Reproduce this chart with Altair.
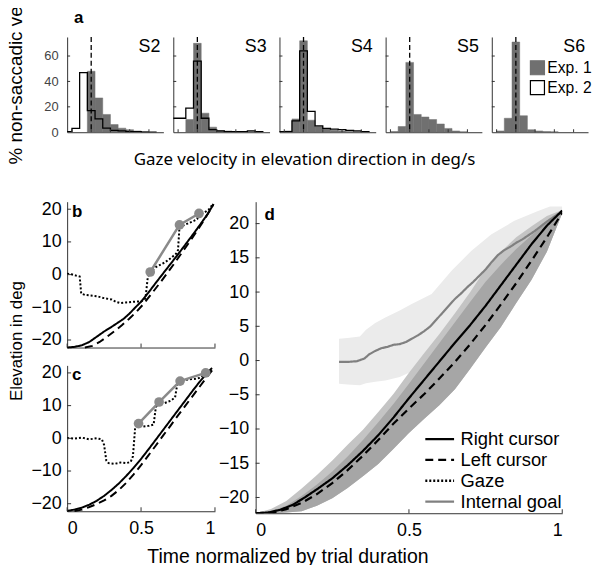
import altair as alt
import pandas as pd

FONT = "Liberation Sans"
AXC = "#333333"

# ---------------- panel a : histograms ----------------
panel_letters = ["a", "b", "c", "d"]
subjects = ["S2", "S3", "S4", "S5", "S6"]
bin_left_edges = [-4, 0, 4, 8, 12, 16, 20, 24, 28, 32, 36, 40]
bin_width = 4
target_velocity = [10]
hist_y_ticks = [0, 20, 40, 60]
hist_x_ticks = [0, 10, 20, 30, 40]
exp_names = ["Exp. 1", "Exp. 2"]
exp_fill = ["#707070", "#ffffff"]
exp_stroke = ["#707070", "#000000"]

s2_exp1 = [0, 0, 0, 48, 27, 14, 6, 3.2, 2, 1, 0.3, 0]
s2_exp2 = [0.5, 3, 47, 17, 10.5, 3.2, 1.5, 1, 0.5, 0.4, 0, 0]
s3_exp1 = [0, 0, 10, 70, 15, 4, 1.2, 1, 0.5, 0.5, 0.3, 0]
s3_exp2 = [11, 11, 19, 56, 11, 2, 1, 0.5, 0.5, 0.5, 1, 0.5]
s4_exp1 = [0, 1, 10.5, 72, 9.5, 4.5, 2.5, 1.5, 1, 0.5, 0.3, 0]
s4_exp2 = [0.5, 0.5, 9, 64, 16.5, 5, 3, 2.5, 2, 1.5, 1, 0.5]
s5_exp1 = [0, 0.5, 4.5, 55, 14, 12, 10, 6.5, 3, 1, 0.3, 0]
s6_exp1 = [0, 1, 11, 71, 13, 2, 1, 0.5, 0.3, 0, 0, 0]
hist_exp1 = [s2_exp1, s3_exp1, s4_exp1, s5_exp1, s6_exp1]
hist_exp2 = [s2_exp2, s3_exp2, s4_exp2, [], []]

# ---------------- panels b, c, d ----------------
series_domain = ["Right cursor", "Left cursor", "Gaze", "Internal goal"]
series_colors = ["#000000", "#000000", "#000000", "#808080"]
series_dashes = [[1, 0], [8, 5], [2, 2], [1, 0]]
time_ticks = [0, 0.5, 1]
elev_ticks_small = [-20, -10, 0, 10, 20]
elev_ticks_big = [-20, -15, -10, -5, 0, 5, 10, 15, 20]

b_t_right = [0, 0.05, 0.1, 0.15, 0.2, 0.25, 0.3, 0.35, 0.38, 0.42, 0.46, 0.5, 0.55, 0.6, 0.65, 0.7, 0.75, 0.8, 0.85, 0.9, 0.95, 0.99]
b_v_right = [-22.3, -22.1, -21.6, -20.6, -19.0, -17.4, -16.0, -14.5, -13.6, -12.0, -10.1, -8.3, -5.5, -2.5, 0.4, 3.3, 6.2, 9.2, 12.2, 15.3, 18.5, 21.5]
b_t_left = [0.12, 0.17, 0.22, 0.27, 0.32, 0.37, 0.42, 0.47, 0.52, 0.57, 0.62, 0.67, 0.72, 0.77, 0.82, 0.87, 0.92, 0.96, 0.99]
b_v_left = [-22.3, -21.8, -20.6, -19.0, -17.3, -15.5, -13.5, -11.3, -8.8, -5.9, -3.0, 0.0, 3.1, 6.3, 9.5, 12.8, 16.2, 19.2, 21.6]
b_t_gaze = [0, 0.03, 0.06, 0.085, 0.095, 0.12, 0.16, 0.2, 0.25, 0.3, 0.33, 0.36, 0.4, 0.45, 0.5, 0.52, 0.53, 0.545, 0.56, 0.6, 0.66, 0.7, 0.74, 0.75, 0.76, 0.8, 0.86, 0.88, 0.89, 0.93, 0.96, 0.98]
b_v_gaze = [0.3, 0.1, -0.3, -0.6, -5.8, -6.2, -6.4, -6.6, -7.2, -7.6, -8.3, -8.7, -8.5, -8.3, -8.2, -7.8, -7.2, -1.0, 0.8, 2.3, 3.7, 5.0, 6.5, 7.5, 14.6, 15.3, 16.5, 17.0, 18.5, 19.0, 20.0, 21.2]
b_t_goal = [0.562, 0.76, 0.892]
b_v_goal = [0.8, 15.2, 18.7]

c_t_right = [0, 0.05, 0.1, 0.15, 0.2, 0.25, 0.3, 0.35, 0.4, 0.45, 0.5, 0.55, 0.6, 0.65, 0.7, 0.75, 0.8, 0.85, 0.9, 0.95, 0.98]
c_v_right = [-22.2, -21.8, -21.2, -20.3, -19.1, -17.6, -15.8, -13.8, -11.5, -9.0, -6.3, -3.4, -0.4, 2.6, 5.6, 8.6, 11.6, 14.6, 17.5, 20.1, 21.5]
c_t_left = [0.05, 0.1, 0.15, 0.2, 0.25, 0.3, 0.35, 0.4, 0.45, 0.5, 0.55, 0.6, 0.65, 0.7, 0.75, 0.8, 0.85, 0.9, 0.95, 0.99]
c_v_left = [-22.2, -21.8, -21.0, -20.1, -19.0, -17.6, -15.8, -13.6, -11.0, -8.2, -5.2, -2.2, 0.9, 3.9, 7.0, 10.0, 13.0, 16.0, 19.0, 21.3]
c_t_gaze = [0, 0.05, 0.1, 0.15, 0.2, 0.235, 0.25, 0.265, 0.28, 0.32, 0.36, 0.4, 0.43, 0.445, 0.46, 0.48, 0.51, 0.55, 0.585, 0.6, 0.62, 0.66, 0.7, 0.73, 0.745, 0.77, 0.82, 0.87, 0.9, 0.93, 0.96]
c_v_gaze = [0.1, -0.1, 0.2, -0.3, 0.0, -0.3, -2.0, -6.8, -7.6, -7.8, -7.4, -7.6, -7.2, -5.5, 3.2, 4.0, 3.6, 3.8, 4.2, 9.5, 11.0, 10.8, 11.5, 12.5, 16.5, 17.8, 18.0, 18.2, 18.5, 19.5, 20.8]
c_t_goal = [0.483, 0.622, 0.764, 0.937]
c_v_goal = [4.5, 11.1, 17.5, 20.0]

d_t_right = [0, 0.04, 0.08, 0.12, 0.16, 0.2, 0.25, 0.3, 0.35, 0.4, 0.45, 0.5, 0.55, 0.6, 0.65, 0.7, 0.75, 0.8, 0.85, 0.9, 0.95, 1.0]
d_v_right = [-22.3, -22.2, -21.8, -21.1, -20.0, -18.8, -17.2, -15.3, -13.2, -10.9, -8.3, -5.5, -2.8, -0.1, 2.6, 5.2, 8.0, 11.0, 14.0, 17.0, 19.7, 21.9]
d_t_left = [0, 0.06, 0.1, 0.15, 0.2, 0.25, 0.3, 0.35, 0.4, 0.45, 0.5, 0.55, 0.6, 0.65, 0.7, 0.75, 0.8, 0.85, 0.9, 0.95, 1.0]
d_v_left = [-22.3, -22.2, -21.7, -20.8, -19.5, -17.9, -16.0, -13.9, -11.6, -9.2, -7.0, -4.9, -2.6, -0.2, 2.4, 5.2, 8.2, 11.3, 14.6, 18.0, 21.6]
d_t_goal = [0.272, 0.3, 0.33, 0.355, 0.37, 0.39, 0.41, 0.43, 0.45, 0.47, 0.49, 0.51, 0.53, 0.55, 0.57, 0.59, 0.61, 0.63, 0.65, 0.67, 0.69, 0.71, 0.73, 0.75, 0.77, 0.79, 0.81, 0.83, 0.85, 0.87, 0.89, 0.91, 0.93, 0.95, 0.97, 0.99, 1.0]
d_v_goal = [-0.2, -0.2, -0.1, 0.3, 0.9, 1.4, 1.8, 2.0, 2.3, 2.4, 2.7, 3.2, 3.7, 4.3, 5.0, 6.0, 7.0, 8.0, 9.0, 9.8, 10.7, 11.5, 12.4, 13.3, 14.4, 15.4, 16.1, 16.6, 17.2, 17.7, 18.3, 18.9, 19.6, 20.3, 20.9, 21.5, 21.8]

goal_band_t = [0.272, 0.3, 0.34, 0.36, 0.39, 0.423, 0.47, 0.509, 0.574, 0.639, 0.703, 0.768, 0.844, 0.919, 0.96, 1.0]
goal_band_hi = [3.2, 3.3, 3.5, 4.5, 5.5, 6.3, 7.3, 8.25, 9.7, 13.1, 16.0, 18.4, 20.4, 21.8, 22.5, 22.5]
goal_band_lo = [-3.4, -3.5, -3.6, -3.3, -3.1, -2.9, -2.4, -1.6, 1.0, 4.5, 8.0, 11.5, 15.0, 18.0, 19.8, 21.5]
cursor_band_t = [0, 0.05, 0.1, 0.15, 0.2, 0.25, 0.3, 0.35, 0.4, 0.45, 0.5, 0.55, 0.6, 0.65, 0.7, 0.75, 0.8, 0.85, 0.9, 0.95, 1.0]
right_band_hi = [-22.3, -21.7, -20.5, -18.7, -16.7, -14.6, -12.3, -10.1, -7.5, -4.85, -1.8, 1.1, 3.9, 6.9, 10.0, 13.4, 15.9, 18.0, 19.6, 21.1, 22.0]
left_band_hi = [-22.3, -22.0, -21.2, -19.8, -18.1, -16.2, -14.0, -11.6, -9.0, -6.3, -3.4, -0.4, 2.6, 5.6, 8.6, 11.5, 14.0, 16.3, 18.3, 20.3, 22.0]
cursor_band_lo = [-22.3, -22.3, -22.2, -22.0, -21.2, -20.1, -18.6, -16.9, -15.1, -12.9, -10.6, -8.5, -6.5, -4.2, -1.2, 1.9, 4.9, 8.4, 11.8, 15.9, 21.5]


def line_df(name, t, v):
    return pd.DataFrame({"series": name, "t": t, "v": v, "i": list(range(len(t)))})


def xticks_in(values, xs, xax, h, length=4):
    return alt.Chart(pd.DataFrame({"tv": values})).mark_rule(color=AXC, strokeWidth=1).encode(
        x=alt.X("tv:Q", scale=xs, axis=xax), y=alt.value(h), y2=alt.value(h - length))


def yticks_in(values, ys, yax, length=4):
    return alt.Chart(pd.DataFrame({"tv": values})).mark_rule(color=AXC, strokeWidth=1).encode(
        y=alt.Y("tv:Q", scale=ys, axis=yax), x=alt.value(0), x2=alt.value(length))


def letter(txt, x, y):
    return alt.Chart(pd.DataFrame({"s": [txt]})).mark_text(
        align="left", baseline="alphabetic", fontSize=17, fontWeight="bold", font=FONT, color="black"
    ).encode(text="s:N", x=alt.value(x), y=alt.value(y))


# ---------------- build histograms ----------------
HW, HH = 97, 96
hxs = alt.Scale(domain=[-2.5, 47.5], nice=False, zero=False)
hys = alt.Scale(domain=[0, 75], nice=False, zero=False)


def hist_panel(idx):
    name = subjects[idx]
    e1 = hist_exp1[idx]
    e2 = hist_exp2[idx]
    lo = bin_left_edges
    hi = [v + bin_width for v in lo]
    first = idx == 0
    last = idx == len(subjects) - 1
    if first:
        yax = alt.Axis(values=hist_y_ticks, ticks=False, labelFontSize=13, labelColor="#444444",
                       labelPadding=9, domainColor=AXC, grid=False, labelFont=FONT,
                       title="% non-saccadic velocity", titleFontSize=19, titleFontWeight="normal",
                       titleAngle=270, titleAlign="left", titleBaseline="bottom", titleX=-41.5,
                       titleY=128, titleColor="black", titleFont=FONT)
    else:
        yax = alt.Axis(values=hist_y_ticks, labels=False, ticks=False, title=None,
                       domainColor=AXC, grid=False)
    xax = alt.Axis(labels=False, ticks=False, title=None, domainColor=AXC, grid=False)
    if last:
        leg = alt.Legend(orient="none", legendX=38, legendY=23, title=None, symbolType="square",
                         symbolSize=200, labelFontSize=15.8, labelFont=FONT, labelColor="black",
                         labelOffset=2, rowPadding=0, padding=0, symbolStrokeWidth=1.2)
    else:
        leg = None
    df1 = pd.DataFrame({"lo": lo, "hi": hi, "h": e1, "exp": exp_names[0]})
    layers = [
        alt.Chart(df1).transform_filter("datum.h > 0").mark_rect(strokeWidth=0.5, clip=True).encode(
            x=alt.X("lo:Q", scale=hxs, axis=xax), x2="hi:Q",
            y=alt.Y("h:Q", scale=hys, axis=yax), y2=alt.datum(0),
            fill=alt.Fill("exp:N", scale=alt.Scale(domain=exp_names, range=exp_fill), legend=leg),
            stroke=alt.Stroke("exp:N", scale=alt.Scale(domain=exp_names, range=exp_stroke), legend=leg),
        )
    ]
    if e2:
        sx = [lo[0]] + lo + [hi[-1]]
        sy = [0] + e2 + [0]
        df2 = pd.DataFrame({"x": sx, "y": sy, "i": list(range(len(sx)))})
        layers.append(
            alt.Chart(df2).mark_line(interpolate="step-after", color="black", strokeWidth=1.3, clip=True).encode(
                x=alt.X("x:Q", scale=hxs, axis=xax), y=alt.Y("y:Q", scale=hys, axis=yax), order="i:Q")
        )
    layers.append(
        alt.Chart(pd.DataFrame({"v": target_velocity})).mark_rule(
            color="black", strokeDash=[5, 3], strokeWidth=1.3).encode(x=alt.X("v:Q", scale=hxs, axis=xax))
    )
    layers.append(xticks_in(hist_x_ticks, hxs, xax, HH, 3))
    layers.append(yticks_in(hist_y_ticks[1:], hys, yax, 3))
    layers.append(
        alt.Chart(pd.DataFrame({"s": [name]})).mark_text(
            align="right", baseline="middle", fontSize=18, font=FONT, color="black"
        ).encode(text="s:N", x=alt.value(HW - 3), y=alt.value(10))
    )
    if first:
        layers.append(letter(panel_letters[0], 7, -14))
    return alt.layer(*layers).properties(width=HW, height=HH)


hist_row = alt.hconcat(
    *[hist_panel(i) for i in range(len(subjects))], spacing=10, bounds="flush",
    title=alt.TitleParams("Gaze velocity in elevation direction in deg/s", orient="bottom",
                          anchor="middle", fontSize=17, font="Noto Sans", fontWeight="normal",
                          offset=-12, dx=5, color="black"),
).resolve_scale(fill="independent", stroke="independent")

# ---------------- build b and c ----------------
SW, SH = 149, 147
txs = alt.Scale(domain=[0, 1], nice=False, zero=False)
eys = alt.Scale(domain=[-22.3, 22.3], nice=False, zero=False)


def small_panel(let, rc, lc, gz, goal, show_x, with_title):
    df = pd.concat([line_df("Gaze", *gz), line_df("Left cursor", *lc), line_df("Right cursor", *rc)])
    xax = alt.Axis(values=time_ticks, format="~g", labels=show_x, ticks=False, labelFontSize=18,
                   labelPadding=8, domainColor=AXC, title=None, grid=False, labelColor="black",
                   labelFont=FONT)
    if with_title:
        yax = alt.Axis(values=elev_ticks_small, ticks=False, labelFontSize=18, labelPadding=6,
                       domainColor=AXC, grid=False, labelColor="black", labelFont=FONT,
                       title="Elevation in deg", titleFontSize=17, titleFontWeight="normal",
                       titleAngle=270, titleAlign="center", titleBaseline="bottom", titleX=-42.4,
                       titleY=140, titleColor="black", titleFont=FONT)
    else:
        yax = alt.Axis(values=elev_ticks_small, ticks=False, labelFontSize=18, labelPadding=6,
                       domainColor=AXC, grid=False, labelColor="black", labelFont=FONT, title=None)
    lines = alt.Chart(df).mark_line(strokeWidth=2).encode(
        x=alt.X("t:Q", scale=txs, axis=xax), y=alt.Y("v:Q", scale=eys, axis=yax),
        stroke=alt.Stroke("series:N", scale=alt.Scale(domain=series_domain, range=series_colors), legend=None),
        strokeDash=alt.StrokeDash("series:N", scale=alt.Scale(domain=series_domain, range=series_dashes), legend=None),
        order="i:Q",
    )
    gdf = line_df("Internal goal", *goal)
    goal_line = alt.Chart(gdf).mark_line(
        color="#8a8a8a", strokeWidth=2.5,
        point=alt.OverlayMarkDef(filled=True, size=95, color="#8a8a8a", opacity=1),
    ).encode(x=alt.X("t:Q", scale=txs, axis=xax), y=alt.Y("v:Q", scale=eys, axis=yax), order="i:Q")
    return alt.layer(
        lines, goal_line,
        xticks_in(time_ticks, txs, xax, SH), yticks_in(elev_ticks_small, eys, yax),
        letter(let, 5, 15),
    ).properties(width=SW, height=SH)


pb = small_panel(panel_letters[1], (b_t_right, b_v_right), (b_t_left, b_v_left),
                 (b_t_gaze, b_v_gaze), (b_t_goal, b_v_goal), False, True)
pc = small_panel(panel_letters[2], (c_t_right, c_v_right), (c_t_left, c_v_left),
                 (c_t_gaze, c_v_gaze), (c_t_goal, c_v_goal), True, False)
left_col = alt.vconcat(pb, pc, spacing=18, bounds="flush").resolve_scale(
    stroke="independent", strokeDash="independent")

# ---------------- build d ----------------
DW, DH = 309, 314
dys = alt.Scale(domain=[-22.3, 23.2], nice=False, zero=False)
dlines = pd.concat([line_df("Internal goal", d_t_goal, d_v_goal),
                    line_df("Left cursor", d_t_left, d_v_left),
                    line_df("Right cursor", d_t_right, d_v_right)])
goal_band = pd.DataFrame({"t": goal_band_t, "lo": goal_band_lo, "hi": goal_band_hi})
cband = pd.DataFrame({"t": cursor_band_t, "lo": cursor_band_lo, "hi1": right_band_hi, "hi2": left_band_hi})

d_xax = alt.Axis(values=time_ticks, format="~g", ticks=False, labelFontSize=18, labelPadding=8,
                 domainColor=AXC, title=None, grid=False, labelColor="black", labelFont=FONT)
d_yax = alt.Axis(values=elev_ticks_big, ticks=False, labelFontSize=18, labelPadding=7,
                 domainColor=AXC, title=None, grid=False, labelColor="black", labelFont=FONT)
d_leg = alt.Legend(orient="none", legendX=169, legendY=230, title=None,
                   symbolType="M-1,0H3", symbolSize=210, symbolStrokeWidth=2.3,
                   labelFontSize=18.5, labelFont=FONT, labelColor="black", labelOffset=19,
                   rowPadding=2, padding=0)

pd_chart = alt.layer(
    alt.Chart(goal_band).mark_area(color="#ebebeb", clip=True).encode(
        x=alt.X("t:Q", scale=txs, axis=d_xax), y=alt.Y("lo:Q", scale=dys, axis=d_yax), y2="hi:Q"),
    alt.Chart(cband).mark_area(color="#c4c4c4", clip=True).encode(
        x=alt.X("t:Q", scale=txs, axis=d_xax), y=alt.Y("lo:Q", scale=dys, axis=d_yax), y2="hi1:Q"),
    alt.Chart(cband).mark_area(color="#a6a6a6", clip=True).encode(
        x=alt.X("t:Q", scale=txs, axis=d_xax), y=alt.Y("lo:Q", scale=dys, axis=d_yax), y2="hi2:Q"),
    alt.Chart(dlines).mark_line(strokeWidth=2.2, clip=True).encode(
        x=alt.X("t:Q", scale=txs, axis=d_xax), y=alt.Y("v:Q", scale=dys, axis=d_yax),
        stroke=alt.Stroke("series:N", scale=alt.Scale(domain=series_domain, range=series_colors), legend=d_leg),
        strokeDash=alt.StrokeDash("series:N", scale=alt.Scale(domain=series_domain, range=series_dashes), legend=d_leg),
        order="i:Q",
    ),
    xticks_in(time_ticks, txs, d_xax, DH), yticks_in(elev_ticks_big, dys, d_yax),
    letter(panel_letters[3], 9, 18),
).properties(width=DW, height=DH)

bottom_row = alt.hconcat(
    left_col, pd_chart, spacing=0,
    title=alt.TitleParams("Time normalized by trial duration", orient="bottom", anchor="middle",
                          fontSize=19.6, font=FONT, fontWeight="normal", offset=9, dx=3, color="black"),
).resolve_scale(stroke="independent", strokeDash="independent")

chart = alt.vconcat(
    hist_row, bottom_row, spacing=32,
    padding={"top": -48, "left": -1.4, "right": 0, "bottom": 0},
).resolve_scale(
    fill="independent", stroke="independent", strokeDash="independent"
).configure(font=FONT).configure_view(strokeWidth=0)

chart.save("out.html", embed_options={"renderer": "svg", "actions": False})
